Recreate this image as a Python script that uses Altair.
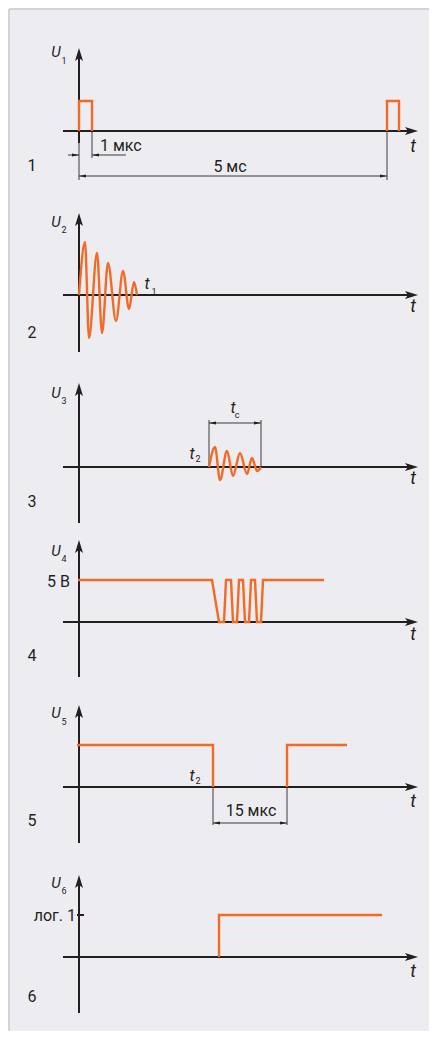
import altair as alt
import pandas as pd

# ---------------- layout of the six panels ----------------
ORIGIN_X = 79                                  # position of the U axis
BASES = [131, 295, 467, 622, 787, 957]         # position of each t axis
AXIS_TOP = [83, 82, 84, 82, 82, 82]            # height of U axis above t axis
AXIS_BOT = [-12, -57, -56, -55, -56, -56]      # extent of U axis below t axis
T_LEFT, T_RIGHT = -16, 339                     # t axis extent (arrow tip at right)

# ---------------- waveforms (t, u) ----------------
P1A_T = [0, 0, 13, 13]
P1A_U = [0, 30, 30, 0]
P1B_T = [308, 308, 320, 320]
P1B_U = [0, 30, 30, 0]
P2_T = [0, 6, 10, 18, 23, 29, 37, 44, 50, 55, 58]
P2_U = [0, 53, -43, 42, -38, 32, -26, 24, -14, 13, 0]
P3_T = [130, 136, 141, 148, 154, 161, 168, 173, 178, 182]
P3_U = [0, 20, -13, 16, -9, 14, -7, 9, -4, 0]
P4_T = [-1, 133, 140, 145, 147, 152, 154, 158, 160, 164, 166, 170, 172, 176, 178, 182, 184, 245]
P4_U = [42, 42, 0, 0, 42, 42, 0, 0, 42, 42, 0, 0, 42, 42, 0, 0, 42, 42]
P5A_T = [-2, 134, 134]
P5A_U = [42, 42, 0]
P5B_T = [208, 208, 268]
P5B_U = [0, 42, 42]
P6_T = [140, 140, 303]
P6_U = [0, 42, 42]

# ---------------- dimension lines (panel, t1, u1, t2, u2) ----------------
DIM_LINES = [
    (0, 0, -12, 0, -49), (0, 13, 0, 13, -27), (0, 308, 0, 308, -49),
    (0, -11, -24, 0, -24), (0, 13, -24, 47, -24), (0, 0, -45, 308, -45),
    (2, 130, 0, 130, 47), (2, 182, 0, 182, 47), (2, 130, 44, 182, 44),
    (4, 134, 0, 134, -38), (4, 208, 0, 208, -38), (4, 134, -36, 208, -36),
]
DIM_ARROWS = [  # panel, t, u, direction angle
    (0, 0, -24, 90), (0, 13, -24, 270), (0, 0, -45, 270), (0, 308, -45, 90),
    (2, 130, 44, 270), (2, 182, 44, 90),
    (4, 134, -36, 270), (4, 208, -36, 90),
]
LEVEL_TICK = [(5, -2, 42, 5, 42)]

# ---------------- texts (panel, t, u, text, kind) ----------------
TEXTS = [
    (0, -23, 79, "U", "U"), (0, -15, 70, "1", "sub"), (0, 334, -16, "t", "t"),
    (0, -47, -35, "1", "num"), (0, 21, -15, "1 мкс", "dimL"), (0, 151, -36, "5 мс", "dimC"),
    (1, -23, 73, "U", "U"), (1, -15, 65, "2", "sub"), (1, 334, -12, "t", "t"),
    (1, -47, -38, "2", "num"), (1, 68, 11, "t", "tl"), (1, 75, 3, "1", "sub"),
    (2, -23, 74, "U", "U"), (2, -15, 66, "3", "sub"), (2, 334, -12, "t", "t"),
    (2, -47, -35, "3", "num"), (2, 154, 59, "t", "tl"), (2, 158, 52, "c", "sub"),
    (2, 113, 13, "t", "tl"), (2, 119, 8, "2", "sub"),
    (3, -23, 71, "U", "U"), (3, -15, 63, "4", "sub"), (3, 334, -13, "t", "t"),
    (3, -47, -34, "4", "num"), (3, -9, 40, "5 В", "dimR"),
    (4, -23, 74, "U", "U"), (4, -15, 65, "5", "sub"), (4, 334, -15, "t", "t"),
    (4, -47, -34, "5", "num"), (4, 113, 11, "t", "tl"), (4, 119, 6, "2", "sub"),
    (4, 172, -24, "15 мкс", "dimC"),
    (5, -23, 74, "U", "U"), (5, -15, 66, "6", "sub"), (5, 334, -15, "t", "t"),
    (5, -47, -40, "6", "num"), (5, -3, 41, "лог. 1", "dimR"),
]

ORANGE = "#F26A24"
INK = "#231F20"
FONT = "Liberation Sans Narrow, Roboto, sans-serif"


def px(p, t):
    return ORIGIN_X + t


def py(p, u):
    return BASES[p] - u


# ---------------- build tables ----------------
wave_rows = []
def add_wave(name, p, ts, us, smooth):
    for i, (t, u) in enumerate(zip(ts, us)):
        wave_rows.append(dict(series=name, order=i, x=px(p, t), y=py(p, u), smooth=smooth))

add_wave("p1a", 0, P1A_T, P1A_U, False)
add_wave("p1b", 0, P1B_T, P1B_U, False)
add_wave("p2", 1, P2_T, P2_U, True)
add_wave("p3", 2, P3_T, P3_U, True)
add_wave("p4", 3, P4_T, P4_U, False)
add_wave("p5a", 4, P5A_T, P5A_U, False)
add_wave("p5b", 4, P5B_T, P5B_U, False)
add_wave("p6", 5, P6_T, P6_U, False)
waves = pd.DataFrame(wave_rows)

axis_rows, tip_rows = [], []
for p in range(6):
    axis_rows.append(dict(x=px(p, T_LEFT), y=py(p, 0), x2=px(p, T_RIGHT - 9), y2=py(p, 0)))
    axis_rows.append(dict(x=px(p, 0), y=py(p, AXIS_BOT[p]), x2=px(p, 0), y2=py(p, AXIS_TOP[p] - 9)))
    tip_rows.append(dict(x=px(p, T_RIGHT), y=py(p, 0), angle=90))
    tip_rows.append(dict(x=px(p, 0), y=py(p, AXIS_TOP[p]), angle=0))
for p, t1, u1, t2, u2 in LEVEL_TICK:
    axis_rows.append(dict(x=px(p, t1), y=py(p, u1), x2=px(p, t2), y2=py(p, u2)))
axes = pd.DataFrame(axis_rows)
tips = pd.DataFrame(tip_rows)

dims = pd.DataFrame([dict(x=px(p, a), y=py(p, b), x2=px(p, c), y2=py(p, d))
                     for p, a, b, c, d in DIM_LINES])
darrows = pd.DataFrame([dict(x=px(p, t), y=py(p, u), angle=a) for p, t, u, a in DIM_ARROWS])
texts = pd.DataFrame([dict(x=px(p, t), y=py(p, u), text=s, kind=k) for p, t, u, s, k in TEXTS])

# frame edges of the grey sheet (top and left)
X0, Y0 = 9, 9
W, H = 420, 1022
frame = pd.DataFrame([dict(x=X0, y=Y0, x2=X0 + W, y2=Y0), dict(x=X0, y=Y0, x2=X0, y2=Y0 + H)])

# ---------------- scales ----------------
xs = alt.Scale(domain=[X0, X0 + W], zero=False, nice=False)
ys = alt.Scale(domain=[Y0, Y0 + H], zero=False, nice=False, reverse=True)
X = lambda f="x": alt.X(f"{f}:Q", scale=xs, axis=None)
Y = lambda f="y": alt.Y(f"{f}:Q", scale=ys, axis=None)

frame_layer = alt.Chart(frame).mark_rule(color="#D4D4D8", strokeWidth=2).encode(
    x=X(), y=Y(), x2="x2:Q", y2="y2:Q")
axis_layer = alt.Chart(axes).mark_rule(color=INK, strokeWidth=2).encode(
    x=X(), y=Y(), x2="x2:Q", y2="y2:Q")
dim_layer = alt.Chart(dims).mark_rule(color="#3C3B3D", strokeWidth=1).encode(
    x=X(), y=Y(), x2="x2:Q", y2="y2:Q")

ARROW = "M0,0L4,13L0,10L-4,13Z"
tip_layer = alt.Chart(tips).mark_point(shape=ARROW, filled=True, size=4, color=INK,
                                       opacity=1, strokeWidth=0).encode(
    x=X(), y=Y(), angle=alt.Angle("angle:Q", scale=None))
SMALL = "M0,0L1.6,7L-1.6,7Z"
darrow_layer = alt.Chart(darrows).mark_point(shape=SMALL, filled=True, size=4, color=INK,
                                             opacity=1, strokeWidth=0).encode(
    x=X(), y=Y(), angle=alt.Angle("angle:Q", scale=None))

lin = alt.Chart(waves).transform_filter("!datum.smooth").mark_line(
    color=ORANGE, strokeWidth=2.4, strokeJoin="miter").encode(
    x=X(), y=Y(), detail="series:N", order="order:Q")
smooth = alt.Chart(waves).transform_filter("datum.smooth").mark_line(
    color=ORANGE, strokeWidth=2.4, interpolate="monotone").encode(
    x=X(), y=Y(), detail="series:N", order="order:Q")


def text_layer(kind, **kw):
    return alt.Chart(texts).transform_filter(f"datum.kind == '{kind}'").mark_text(
        font=FONT, color=INK, baseline="middle", **kw).encode(x=X(), y=Y(), text="text:N")

labels = [
    text_layer("U", fontSize=15, fontStyle="italic", align="center"),
    text_layer("sub", fontSize=9, align="center"),
    text_layer("t", fontSize=18, fontStyle="italic", align="center"),
    text_layer("tl", fontSize=16, fontStyle="italic", align="center"),
    text_layer("num", fontSize=16, align="center"),
    text_layer("dimL", fontSize=16, align="left"),
    text_layer("dimC", fontSize=16, align="center"),
    text_layer("dimR", fontSize=16, align="right"),
]

chart = alt.layer(frame_layer, dim_layer, axis_layer, tip_layer, darrow_layer, lin, smooth,
                  *labels).properties(
    width=W, height=H,
    autosize=alt.AutoSizeParams(type="none"),
    padding={"left": 1, "top": 1, "right": 0, "bottom": 0},
    background="white",
).configure_view(fill="#EDECF1", stroke=None)

chart.save("out.html", embed_options={"renderer": "svg", "actions": False})
